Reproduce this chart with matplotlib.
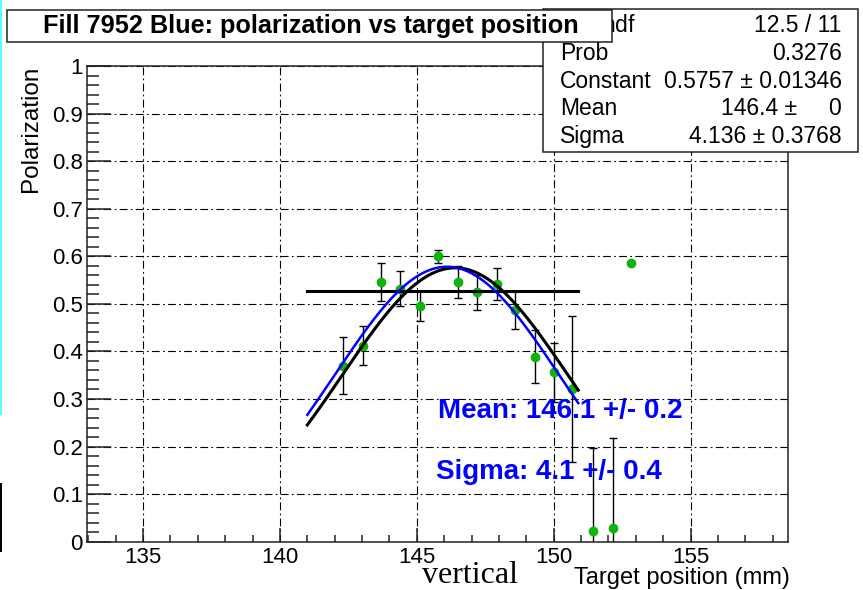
import numpy as np
import matplotlib
matplotlib.use("Agg")
import matplotlib.pyplot as plt
from matplotlib.patches import Rectangle

plt.rcParams['font.family'] = ['Liberation Sans', 'DejaVu Sans']

# target scan: position (mm), polarization and its error
pos = [142.29, 143.02, 143.69, 144.40, 145.10, 145.79, 146.50, 147.21,
       147.94, 148.60, 149.31, 150.01, 150.67, 151.44, 152.15, 152.84]
pol = [0.370, 0.412, 0.545, 0.532, 0.496, 0.600, 0.546, 0.524,
       0.542, 0.488, 0.389, 0.356, 0.321, 0.023, 0.028, 0.585]
pol_err = [0.060, 0.041, 0.040, 0.037, 0.032, 0.014, 0.034, 0.036,
           0.034, 0.040, 0.055, 0.062, 0.153, 0.175, 0.190, 0.0]

# gaussian fit (stat box) and the second fit shown in blue
fit_const, fit_mean, fit_sigma = 0.5757, 146.4, 4.136
blue_const, blue_mean, blue_sigma = 0.578, 146.1, 4.1
flat_level = 0.527
fit_range = (141.0, 150.9)

stat_labels = ["\u03c7$^2$ / ndf", "Prob", "Constant", "Mean", "Sigma"]
stat_values = ["12.5 / 11", "0.3276", "0.5757 \u00b1 0.01346",
               "146.4 \u00b1     0", "4.136 \u00b1 0.3768"]

W, H = 863, 590


def fx(x):
    return x / W


def fy(y):
    return 1 - y / H


fig = plt.figure(figsize=(W / 100, H / 100), dpi=100)
ax = fig.add_axes([fx(87), fy(541.7), (787.7 - 87) / W, (541.7 - 66) / H])

ax.set_xlim(132.95, 158.55)
ax.set_ylim(0, 1.0)
ax.set_xticks([135, 140, 145, 150, 155])
ax.set_xticks(np.arange(133, 159), minor=True)
ax.set_yticks(np.round(np.arange(0, 1.01, 0.1), 1))
ax.set_yticks(np.arange(0, 1.001, 0.02), minor=True)
ax.set_yticklabels(["0", "0.1", "0.2", "0.3", "0.4", "0.5", "0.6", "0.7", "0.8", "0.9", "1"])
ax.tick_params(axis='both', which='both', direction='in', labelsize=16,
               top=False, right=False, width=1.1, color='#222222')
ax.tick_params(axis='x', which='major', length=10, pad=4)
ax.tick_params(axis='x', which='minor', length=5)
ax.tick_params(axis='y', which='major', length=17, pad=3)
ax.tick_params(axis='y', which='minor', length=8.5)
for sp in ax.spines.values():
    sp.set_linewidth(1.1)
    sp.set_color('#222222')

ax.grid(True, which='major', color='black', linewidth=0.8,
        linestyle=(0, (7, 3, 1.5, 3)))

ax.errorbar(pos, pol, yerr=pol_err, fmt='o', color='#0cb40c', markersize=6,
            ecolor='black', elinewidth=1.0, capsize=3, capthick=1.0, zorder=3)

xs = np.linspace(fit_range[0], fit_range[1], 200)
ax.plot(xs, fit_const * np.exp(-0.5 * ((xs - fit_mean) / fit_sigma) ** 2),
        color='black', linewidth=2.2, zorder=4)
ax.plot(xs, blue_const * np.exp(-0.5 * ((xs - blue_mean) / blue_sigma) ** 2),
        color='#0000ff', linewidth=1.8, zorder=5)
ax.plot(fit_range, [flat_level, flat_level], color='black', linewidth=2.2, zorder=4)

ax.text(145.77, 0.274, "Mean: 146.1 +/- 0.2", color='#0000ff', fontsize=20,
        fontweight='bold', va='center', ha='left', zorder=6)
ax.text(145.69, 0.147, "Sigma: 4.1 +/- 0.4", color='#0000ff', fontsize=20,
        fontweight='bold', va='center', ha='left', zorder=6)

ax.set_ylabel("Polarization", fontsize=17.5, loc='top', labelpad=7)
fig.text(fx(790), fy(589), "Target position (mm)", fontsize=17,
         ha='right', va='bottom')

# statistics box
fig.add_artist(Rectangle((fx(543.3), fy(151.7)), (858.3 - 543.3) / W, (151.7 - 9.3) / H,
                         transform=fig.transFigure, facecolor='white',
                         edgecolor='#222222', linewidth=1.1, zorder=10))
row_y = [25, 53.3, 81.7, 108.3, 136.7]
for lab, val, y in zip(stat_labels, stat_values, row_y):
    fig.text(fx(560), fy(y), lab, fontsize=16.5, ha='left', va='center', zorder=11)
    fig.text(fx(841.7), fy(y), val, fontsize=16.5, ha='right', va='center', zorder=11)

# title box
fig.add_artist(Rectangle((fx(7.3), fy(41.7)), (611.7 - 7.3) / W, (41.7 - 10) / H,
                         transform=fig.transFigure, facecolor='white',
                         edgecolor='#222222', linewidth=1.1, zorder=20))
fig.text(fx(310.5), fy(26), "Fill 7952 Blue: polarization vs target position",
         fontsize=18.2, fontweight='bold', ha='center', va='center', zorder=21)

# page edge marks
fig.add_artist(Rectangle((0, fy(415)), fx(2), 415 / H, transform=fig.transFigure,
                         facecolor='#55ffff', edgecolor='none', zorder=30))
fig.add_artist(Rectangle((0, fy(552)), fx(2), (552 - 483) / H, transform=fig.transFigure,
                         facecolor='black', edgecolor='none', zorder=30))

fig.text(fx(421.7), 0.0, "vertical", family='Liberation Serif', fontsize=23,
         ha='left', va='bottom')

fig.savefig("out.png", dpi=100)
